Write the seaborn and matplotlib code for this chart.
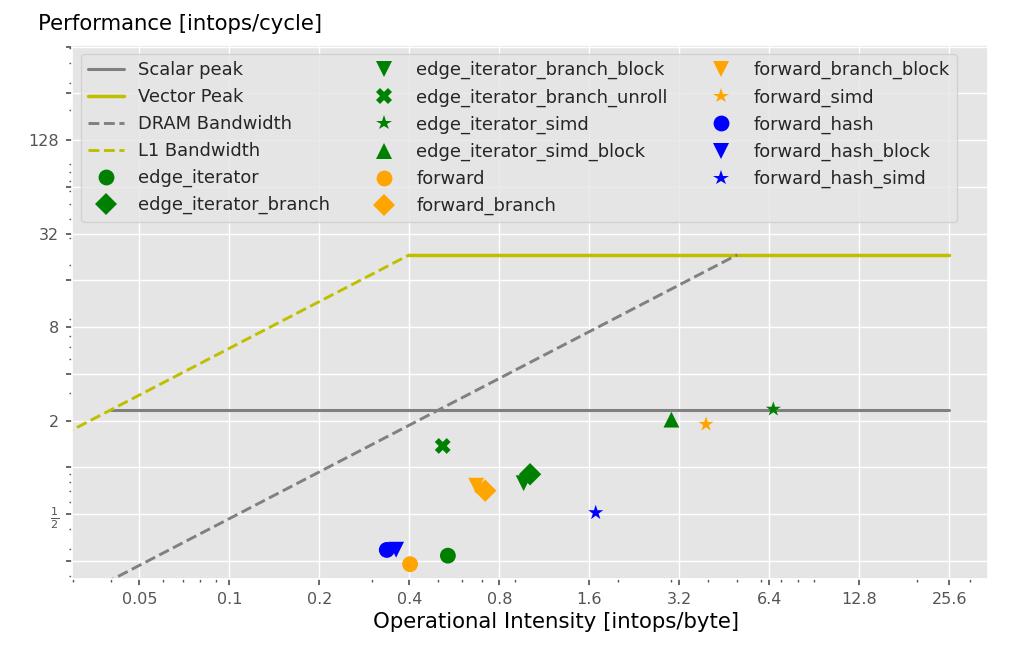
import numpy as np
import pandas as pd
import matplotlib
matplotlib.use("Agg")
import matplotlib.pyplot as plt
import seaborn as sns

# ---------------- data ----------------
SCALAR_PEAK = 2.35      # intops/cycle
VECTOR_PEAK = 23.4      # intops/cycle
DRAM_BW = 4.68          # intops/byte -> slope
L1_BW = 58.5
OI_START = 0.025
OI_END = 25.6

names = ["edge_iterator", "edge_iterator_branch", "edge_iterator_branch_block",
         "edge_iterator_branch_unroll", "edge_iterator_simd", "edge_iterator_simd_block",
         "forward", "forward_branch", "forward_branch_block", "forward_simd",
         "forward_hash", "forward_hash_block", "forward_hash_simd"]
intensity = [0.538, 1.013, 0.964, 0.517, 6.60, 3.01,
             0.402, 0.717, 0.669, 3.93,
             0.336, 0.361, 1.68]
performance = [0.270, 0.903, 0.791, 1.374, 2.37, 2.03,
               0.238, 0.708, 0.762, 1.896,
               0.294, 0.295, 0.511]
colors = ["green"] * 6 + ["orange"] * 4 + ["blue"] * 3
markers = ["o", "D", "v", "X", "*", "^",
           "o", "D", "v", "*",
           "o", "v", "*"]

x_ticks = [0.05, 0.1, 0.2, 0.4, 0.8, 1.6, 3.2, 6.4, 12.8, 25.6]
x_tick_labels = ["0.05", "0.1", "0.2", "0.4", "0.8", "1.6", "3.2", "6.4", "12.8", "25.6"]
y_ticks = [0.25, 0.5, 1, 2, 4, 8, 16, 32, 64, 128, 256, 512]
y_tick_labels = ["", r"$\frac{1}{2}$", "", "2", "", "8", "", "32", "", "128", "", ""]

YELLOW = "#BFBF00"

# ---------------- style ----------------
sns.set_theme(style="darkgrid", rc={
    "axes.facecolor": "#E5E5E5",
    "axes.edgecolor": "white",
    "grid.color": "white",
    "grid.linewidth": 0.8,
    "xtick.bottom": True,
    "ytick.left": True,
    "xtick.color": "#555555",
    "ytick.color": "#555555",
    "xtick.direction": "out",
    "ytick.direction": "out",
    "xtick.major.size": 4.5,
    "ytick.major.size": 4.5,
    "xtick.minor.size": 2,
    "ytick.minor.size": 2,
    "xtick.minor.visible": True,
    "axes.labelcolor": "black",
    "legend.frameon": True,
    "legend.facecolor": "#E5E5E5",
    "legend.edgecolor": "#CCCCCC",
    "legend.framealpha": 0.8,
})
plt.rcParams["font.family"] = ["DejaVu Sans"]

fig = plt.figure(figsize=(10.19, 6.46), dpi=100)
ax = fig.add_axes([0.0707, 0.1037, 0.8989, 0.8266])

# ---------------- roofline lines ----------------
x_scalar = [SCALAR_PEAK / L1_BW, OI_END]
x_vector = [VECTOR_PEAK / L1_BW, OI_END]
x_dram = [OI_START, VECTOR_PEAK / DRAM_BW]
x_l1 = [OI_START, VECTOR_PEAK / L1_BW]

sns.lineplot(x=x_scalar, y=[SCALAR_PEAK, SCALAR_PEAK], color="grey", linewidth=2.2,
             label="Scalar peak", ax=ax, estimator=None, sort=False)
sns.lineplot(x=x_vector, y=[VECTOR_PEAK, VECTOR_PEAK], color=YELLOW, linewidth=2.5,
             label="Vector Peak", ax=ax, estimator=None, sort=False)
sns.lineplot(x=x_dram, y=[DRAM_BW * v for v in x_dram], color="grey", linewidth=2.1,
             linestyle="--", label="DRAM Bandwidth", ax=ax, estimator=None, sort=False)
sns.lineplot(x=x_l1, y=[L1_BW * v for v in x_l1], color=YELLOW, linewidth=2.1,
             linestyle="--", label="L1 Bandwidth", ax=ax, estimator=None, sort=False)
line_handles = [l for l in ax.get_lines() if not l.get_label().startswith("_")]
line_labels = [l.get_label() for l in line_handles]

# ---------------- measured points ----------------
df = pd.DataFrame({"name": names, "intensity": intensity, "performance": performance})
sns.scatterplot(data=df, x="intensity", y="performance", hue="name", style="name",
                hue_order=names, style_order=names,
                palette=dict(zip(names, colors)), markers=dict(zip(names, markers)),
                s=130, linewidth=0, ax=ax, legend="full", zorder=3)

leg = ax.get_legend()
sc_handles, sc_labels = [], []
for h, t in zip(leg.legend_handles, leg.get_texts()):
    if t.get_text() in names:
        sc_handles.append(h)
        sc_labels.append(t.get_text())
leg.remove()

# ---------------- axes ----------------
ax.set_xscale("log")
ax.set_yscale("log")
ax.set_xlim(0.02974, 34.5)
ax.set_ylim(0.191, 525)
ax.set_xticks(x_ticks, x_tick_labels)
ax.set_yticks(y_ticks, y_tick_labels)
ax.tick_params(axis="both", which="major", labelsize=11.5, pad=5)
ax.grid(True, which="major", color="white", linewidth=1.0)
ax.grid(False, which="minor")

ax.set_xlabel("Operational Intensity [intops/byte]", fontsize=15.3)
ax.xaxis.set_label_coords(0.528, -0.062)
ax.set_ylabel("Performance [intops/cycle]", fontsize=15.3, rotation=0,
              ha="left", va="bottom")
ax.yaxis.set_label_coords(-0.037, 1.02)

ax.legend(handles=line_handles + sc_handles, labels=line_labels + sc_labels,
          loc="upper left", ncol=3, fontsize=12.9, markerscale=1.0)

fig.savefig("out.png", dpi=100)
